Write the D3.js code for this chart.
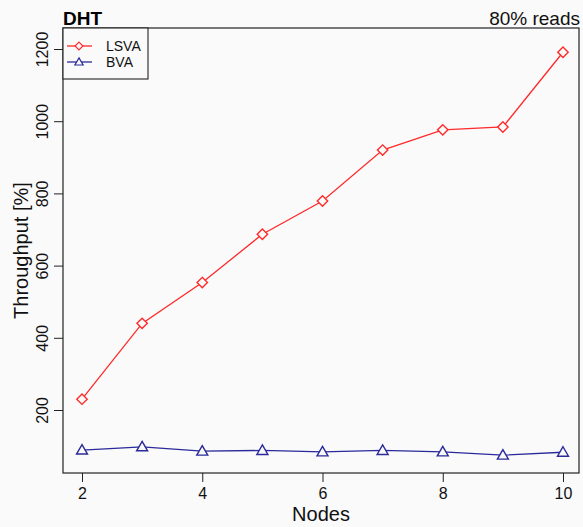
<!DOCTYPE html>
<html>
<head>
<meta charset="utf-8">
<script src="https://cdn.jsdelivr.net/npm/d3@7"></script>
<style>
  html, body { margin: 0; padding: 0; background: #fafafa; }
  svg { display: block; font-family: "Liberation Sans", Arial, Helvetica, sans-serif; }
</style>
</head>
<body>
<svg id="chart" width="583" height="527"></svg>
<script>
// node counts on the x axis
const nodes = [2, 3, 4, 5, 6, 7, 8, 9, 10];
// throughput [%] per series
const lsva = [230, 440, 553, 687, 779, 920, 976, 984, 1191];
const bva  = [89, 98, 86, 88, 84, 88, 84, 75, 83];
const xTicks = [2, 4, 6, 8, 10];
const yTicks = [200, 400, 600, 800, 1000, 1200];

const svg = d3.select("#chart");

// plot box (R-style frame)
const box = { left: 63, top: 28, right: 579, bottom: 473 };

const x = d3.scaleLinear().domain([2, 10]).range([82, 563]);
const y = d3.scaleLinear().domain([200, 1200]).range([410, 49]);

svg.append("rect")
  .attr("x", 0).attr("y", 0).attr("width", 583).attr("height", 527)
  .attr("fill", "#fafafa");

svg.append("rect")
  .attr("x", box.left).attr("y", box.top)
  .attr("width", box.right - box.left).attr("height", box.bottom - box.top)
  .attr("fill", "none").attr("stroke", "#222").attr("stroke-width", 1.2);

// x axis: ticks outward, labels below
const xAxis = d3.axisBottom(x).tickValues(xTicks).tickSizeOuter(0).tickSize(9).tickPadding(6);
const gx = svg.append("g").attr("transform", `translate(0,${box.bottom})`).call(xAxis);
gx.select(".domain").remove();
gx.selectAll("line").attr("stroke", "#222").attr("stroke-width", 1);
gx.selectAll("text").attr("font-size", 16).attr("fill", "#111")
  .attr("font-family", "Liberation Sans, Arial, sans-serif");

// y axis: ticks outward, labels rotated like R's default las
const yAxis = d3.axisLeft(y).tickValues(yTicks).tickSizeOuter(0).tickSize(9).tickFormat(d3.format("d"));
const gy = svg.append("g").attr("transform", `translate(${box.left},0)`).call(yAxis);
gy.select(".domain").remove();
gy.selectAll("line").attr("stroke", "#222").attr("stroke-width", 1);
gy.selectAll("text").remove();
gy.selectAll(".tick").append("text")
  .attr("transform", "translate(-15,0) rotate(-90)")
  .attr("text-anchor", "middle")
  .attr("font-size", 16)
  .attr("fill", "#111")
  .attr("font-family", "Liberation Sans, Arial, sans-serif")
  .text(d => d);

// titles
svg.append("text")
  .attr("x", box.left).attr("y", 25)
  .attr("font-size", 19).attr("font-weight", "bold").attr("fill", "#000")
  .text("DHT");

svg.append("text")
  .attr("x", box.right + 1).attr("y", 25)
  .attr("text-anchor", "end")
  .attr("font-size", 19).attr("fill", "#111")
  .text("80% reads");

svg.append("text")
  .attr("x", (box.left + box.right) / 2).attr("y", 521)
  .attr("text-anchor", "middle")
  .attr("font-size", 20).attr("fill", "#111")
  .text("Nodes");

svg.append("text")
  .attr("transform", `translate(28,${(box.top + box.bottom) / 2}) rotate(-90)`)
  .attr("text-anchor", "middle")
  .attr("font-size", 20).attr("fill", "#111")
  .text("Throughput [%]");

// series
const red = "#ff2a2a";
const navy = "#2a2a9a";

const line = d3.line()
  .x((d, i) => x(nodes[i]))
  .y(d => y(d));

function drawSeries(values, color, shape) {
  svg.append("path")
    .datum(values)
    .attr("d", line)
    .attr("fill", "none")
    .attr("stroke", color)
    .attr("stroke-width", 1.3);

  svg.append("g").selectAll("path")
    .data(values)
    .join("path")
    .attr("transform", (d, i) => `translate(${x(nodes[i])},${y(d)})`)
    .attr("d", shape)
    .attr("fill", "#fafafa")
    .attr("stroke", color)
    .attr("stroke-width", 1.4);
}

// pch 5 diamond, pch 2 triangle
const diamond = "M0,-5.2L5.2,0L0,5.2L-5.2,0Z";
const triangle = "M0,-5.5L5.5,4L-5.5,4Z";

drawSeries(lsva, red, diamond);
drawSeries(bva, navy, triangle);

// legend
const legend = svg.append("g");
legend.append("rect")
  .attr("x", box.left).attr("y", box.top)
  .attr("width", 85).attr("height", 51)
  .attr("fill", "#fafafa").attr("stroke", "#222").attr("stroke-width", 1.1);

const legendItems = [
  { label: "LSVA", color: red, shape: diamond },
  { label: "BVA", color: navy, shape: triangle }
];

legendItems.forEach((it, i) => {
  const ly = 46 + i * 16;
  legend.append("line")
    .attr("x1", 67).attr("x2", 92).attr("y1", ly).attr("y2", ly)
    .attr("stroke", it.color).attr("stroke-width", 1.3);
  legend.append("path")
    .attr("transform", `translate(79,${ly}) scale(0.75)`)
    .attr("d", it.shape)
    .attr("fill", "#fafafa")
    .attr("stroke", it.color).attr("stroke-width", 1.6);
  legend.append("text")
    .attr("x", 106).attr("y", ly + 5)
    .attr("font-size", 14).attr("fill", "#111")
    .text(it.label);
});
</script>
</body>
</html>
